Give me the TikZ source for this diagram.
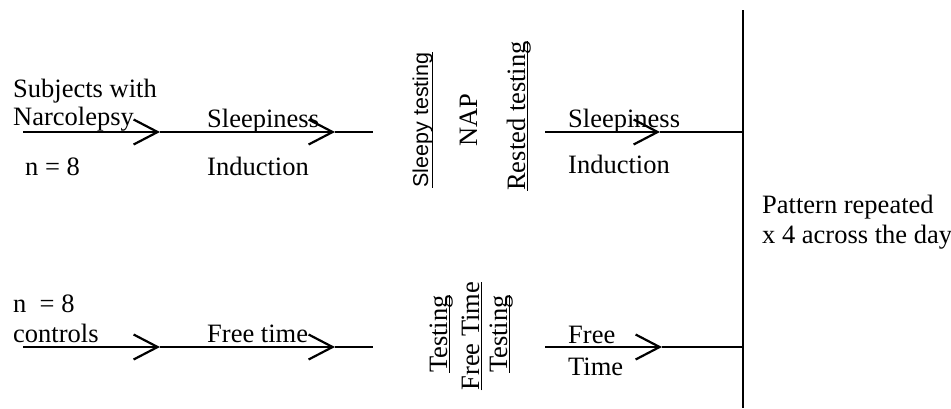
\documentclass[tikz,border=0pt]{standalone}
\usepackage{fontspec}
\setmainfont{Liberation Serif}
\newfontfamily\sansfont{Liberation Sans}
\usetikzlibrary{arrows.meta}
% 下划线
\newcommand{\undr}[2][3pt]{\setbox0\hbox{#2}\rlap{\rule[-#1]{\wd0}{1.5pt}}\box0}

\begin{document}
\begin{tikzpicture}[x=1pt, y=-1pt, font=\fontsize{26.5}{30}\selectfont]
    \tikzstyle{txt} = [anchor=base west, inner sep=0]
    \tikzstyle{vtxt} = [rotate=90, anchor=base, inner sep=0]
    \tikzstyle{seg} = [line width=1.8pt]
    \tikzstyle{arr} = [seg, -{Straight Barb[length=24pt, width=25pt, line width=2.2pt]}]
    \useasboundingbox (0, 0) rectangle (951, 408);

    % 上排
    \path   (13, 97)  node [txt, name=subj] {Subjects with}
            (13, 125) node [txt, name=narc] {Narcolepsy}
            (25, 175) node [txt, name=nnarc] {n = 8}
            (207, 127) node [txt, name=sleep1] {Sleepiness}
            (207, 175) node [txt, name=induc1] {Induction}
            (428, 120) node [vtxt, name=sleepy] {\sansfont\fontsize{21.5}{24}\selectfont\undr[5pt]{Sleepy testing}}
            (477, 120) node [vtxt, name=nap] {NAP}
            (525, 116) node [vtxt, name=rested] {\undr{Rested testing}}
            (568, 127) node [txt, name=sleep2] {Sleepiness}
            (568, 173) node [txt, name=induc2] {Induction};

    % 下排
    \path   (13, 312) node [txt, name=nctrl] {n\ \ = 8}
            (13, 342) node [txt, name=ctrl] {controls}
            (207, 342) node [txt, name=free1] {Free time}
            (447, 334) node [vtxt, name=test1] {\undr{Testing}}
            (479, 336) node [vtxt, name=free2] {\undr{Free Time}}
            (507, 334) node [vtxt, name=test2] {\undr{Testing}}
            (568, 343) node [txt, name=free3] {Free}
            (568, 375) node [txt, name=time3] {Time};

    % 右侧
    \path   (762, 213) node [txt, name=patt] {Pattern repeated}
            (762, 243) node [txt, name=days] {x 4 across the day};

    % 时间线
    \coordinate (a0) at (23, 132);  \coordinate (a1) at (160, 132);
    \coordinate (a2) at (335, 132); \coordinate (a3) at (373, 132);
    \coordinate (c0) at (545, 132); \coordinate (c1) at (660, 132);
    \coordinate (c2) at (743, 132);
    \coordinate (b0) at (23, 347);  \coordinate (b1) at (160, 347);
    \coordinate (b2) at (335, 347); \coordinate (b3) at (373, 347);
    \coordinate (d0) at (545, 347); \coordinate (d1) at (662, 347);
    \coordinate (d2) at (743, 347);
    \coordinate (bartop) at (743, 10); \coordinate (barbot) at (743, 408);

    \draw [arr] (a0) -- (a1);
    \draw [arr] (a1) -- (a2);
    \draw [seg] (a2) -- (a3);
    \draw [arr] (c0) -- (c1);
    \draw [seg] (c1) -- (c2);
    \draw [arr] (b0) -- (b1);
    \draw [arr] (b1) -- (b2);
    \draw [seg] (b2) -- (b3);
    \draw [arr] (d0) -- (d1);
    \draw [seg] (d1) -- (d2);
    \draw [seg] (bartop) -- (barbot);
\end{tikzpicture}
\end{document}
